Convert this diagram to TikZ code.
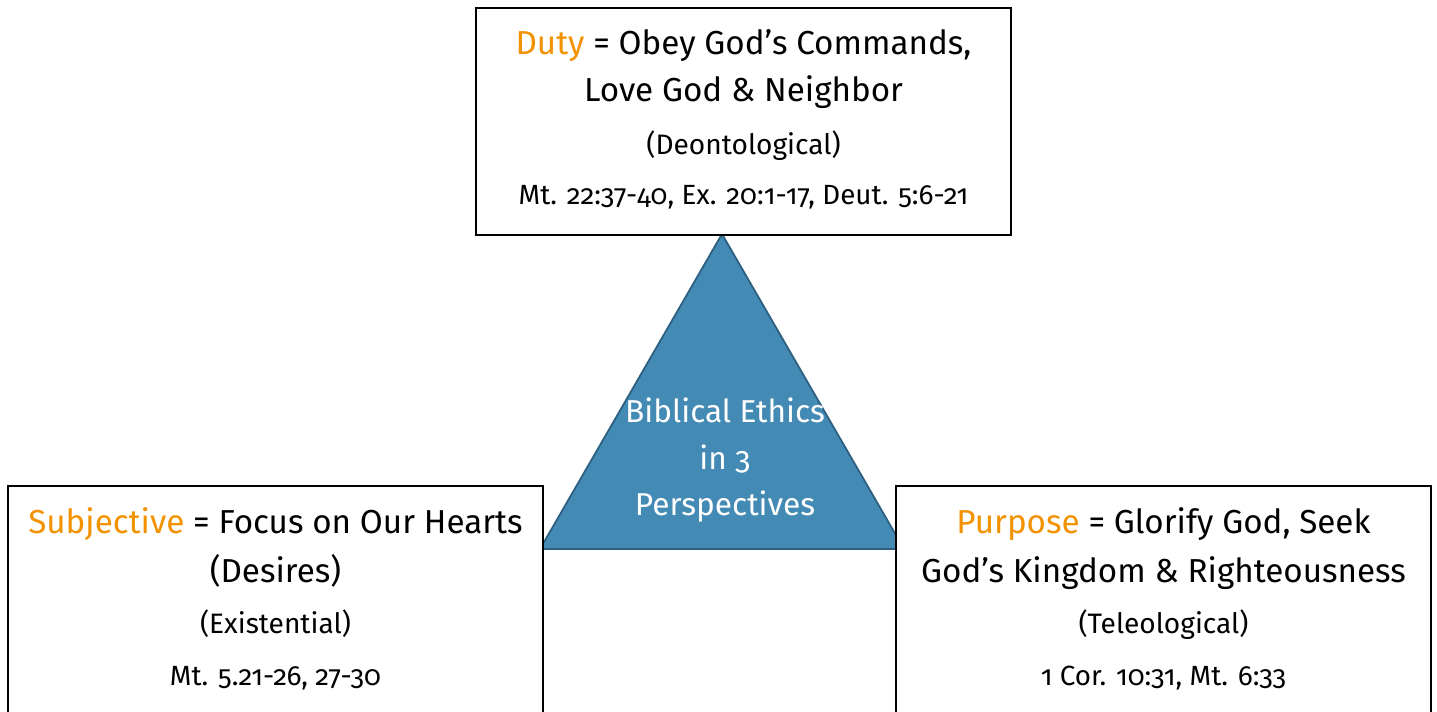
\documentclass[tikz,border=0pt]{standalone}
\usepackage{fontspec}
\setmainfont{Fira Sans}[Numbers=OldStyle]
\usepackage{xcolor}
\usepackage{tikz}

\definecolor{dutyorange}{HTML}{F39200}
\definecolor{triblue}{HTML}{438AB5}
\definecolor{triedge}{HTML}{2C5F80}

\tikzset{
  box/.style={draw=black, line width=0.9pt, fill=white},
  bigtxt/.style={anchor=base, inner sep=0pt, font=\fontsize{18.9}{23}\selectfont},
  midtxt/.style={anchor=base, inner sep=0pt, font=\fontsize{16}{19}\selectfont},
  reftxt/.style={anchor=base, inner sep=0pt, font=\fontsize{15.8}{19}\selectfont},
  tritxt/.style={anchor=base, inner sep=0pt, text=white, font=\fontsize{18}{22}\selectfont}
}
\newcommand{\hl}[1]{\textcolor{dutyorange}{#1}}

\begin{document}
\begin{tikzpicture}
        \useasboundingbox (0,0) rectangle (28.74,14.22);
        \clip (0,0) rectangle (28.74,14.22);

        % Triangle
        \draw[fill=triblue, draw=triedge, line width=1pt, line join=round]
          (14.44,9.54) -- (10.8,3.24) -- (18.08,3.24) -- cycle;
        \node[tritxt] (ethics) at (14.5,5.78) {Biblical Ethics};
        \node[tritxt] (inthree) at (14.5,4.84) {in 3};
        \node[tritxt] (persp) at (14.5,3.92) {Perspectives};

        % Duty
        \draw[box] (9.52,9.52) rectangle (20.22,14.06);
        \node[bigtxt] (duty) at (14.87,13.12) {\hl{Duty} = Obey God’s Commands,};
        \node[bigtxt] (dutyb) at (14.87,12.18) {Love God \& Neighbor};
        \node[midtxt] (deon) at (14.87,11.12) {(Deontological)};
        \node[reftxt] (dutyref) at (14.87,10.12) {Mt. 22:37-40, Ex. 20:1-17, Deut. 5:6-21};

        % Subjective
        \draw[box] (0.16,-1) rectangle (10.86,4.5);
        \node[bigtxt] (subj) at (5.51,3.56) {\hl{Subjective} = Focus on Our Hearts};
        \node[bigtxt] (subjb) at (5.51,2.58) {(Desires)};
        \node[midtxt] (exist) at (5.51,1.56) {(Existential)};
        \node[reftxt] (subjref) at (5.51,0.52) {Mt. 5.21-26, 27-30};

        % Purpose
        \draw[box] (17.92,-1) rectangle (28.62,4.5);
        \node[bigtxt] (purp) at (23.27,3.56) {\hl{Purpose} = Glorify God, Seek};
        \node[bigtxt] (purpb) at (23.27,2.58) {God’s Kingdom \& Righteousness};
        \node[midtxt] (teleo) at (23.27,1.56) {(Teleological)};
        \node[reftxt] (purpref) at (23.27,0.52) {1 Cor. 10:31, Mt. 6:33};
    \end{tikzpicture}
\end{document}
